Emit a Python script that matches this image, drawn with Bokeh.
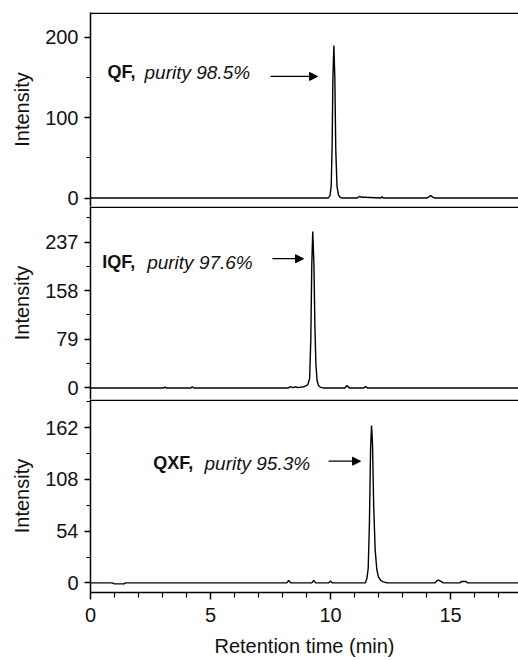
from bokeh.plotting import figure
from bokeh.models import Range1d, FixedTicker, Span, Arrow, NormalHead, Label
from bokeh.layouts import column
from bokeh.embed import file_html
from bokeh.resources import INLINE

# ---------------- data ----------------
x_ticks = [0, 5, 10, 15]
x_minor = [1, 2, 3, 4, 6, 7, 8, 9, 11, 12, 13, 14, 16, 17]

qf_time = [0.0, 9.90, 9.98, 10.03, 10.07, 10.10, 10.14, 10.18, 10.22, 10.27, 10.33, 10.40, 10.50,
           11.10, 11.20, 11.30, 11.40, 12.10, 12.15, 12.20, 14.00, 14.10, 14.17, 14.25, 14.35, 17.90]
qf_int = [0, 0, 3, 15, 70, 150, 190, 150, 60, 15, 4, 1, 0,
          0, 2, 1, 1, 0, 1.5, 0, 0, 1.5, 3, 1.5, 0, 0]
qf_ticks = [0, 100, 200]
qf_minor = [50, 150]

iqf_time = [0.0, 3.05, 3.10, 3.15, 4.18, 4.24, 4.30, 8.25, 8.33, 8.42, 8.50, 8.55, 8.62, 8.90,
            9.05, 9.13, 9.18, 9.22, 9.26, 9.31, 9.35, 9.39, 9.44, 9.50, 9.58, 9.70,
            10.60, 10.69, 10.78, 11.38, 11.46, 11.54, 17.90]
iqf_int = [0, 0, 1.5, 0, 0, 2, 0, 0, 2, 0.5, 1, 2, 0.5, 2,
           5, 15, 80, 200, 254, 200, 100, 40, 12, 4, 1, 0,
           0, 4, 0, 0, 2, 0, 0]
iqf_ticks = [0, 79, 158, 237]
iqf_minor = [39.5, 118.5, 197.5, 276.5]

qxf_time = [0.0, 0.90, 1.00, 1.40, 1.45, 8.18, 8.26, 8.34, 9.22, 9.30, 9.38, 9.93, 10.00, 10.07,
            11.45, 11.52, 11.57, 11.62, 11.67, 11.71, 11.75, 11.80, 11.86, 11.93, 12.00, 12.10,
            12.20, 12.35, 14.35, 14.45, 14.50, 14.60, 14.70, 15.40, 15.45, 15.65, 15.70, 17.90]
qxf_int = [0, 0, -1, -1, 0, 0, 2.5, 0, 0, 2.5, 0, 0, 2, 0,
           0, 5, 15, 60, 140, 164, 145, 80, 35, 14, 6, 2.5,
           1, 0, 0, 2.5, 3, 1.5, 0, 0, 1.5, 1.5, 0, 0]
qxf_ticks = [0, 54, 108, 162]
qxf_minor = [27, 81, 135, 189]

FONT = "Liberation Sans"
x_range = Range1d(0, 17.833)


def panel(t, y, ticks, minor, yr, height, top, bottom, show_x,
          bold_txt, ital_txt, bold_x, ital_x, txt_y, arr_x0, arr_x1, arr_y):
    p = figure(width=518, height=height, x_range=x_range,
               y_range=Range1d(*yr), output_backend="svg", toolbar_location=None,
               min_border_left=90, min_border_right=0,
               min_border_top=top, min_border_bottom=bottom,
               x_axis_location="below" if show_x else None)
    p.outline_line_color = None
    p.grid.visible = False
    p.background_fill_color = "white"
    p.border_fill_color = "white"
    p.line(t, y, line_color="black", line_width=1.4)

    ax = p.yaxis[0]
    ax.ticker = FixedTicker(ticks=ticks, minor_ticks=minor)
    ax.axis_label = "Intensity"
    for a in p.axis:
        a.axis_line_width = 1.5
        a.major_tick_line_width = 1.5
        a.minor_tick_line_width = 1.2
        a.major_tick_out = 6
        a.major_tick_in = 0
        a.minor_tick_out = 4
        a.minor_tick_in = 0
        a.major_label_text_font = FONT
        a.major_label_text_font_size = "20px"
        a.major_label_text_color = "#111111"
        a.axis_label_text_font = FONT
        a.axis_label_text_font_size = "20px"
        a.axis_label_text_font_style = "normal"
        a.axis_label_text_color = "#111111"
    ax.major_label_standoff = 6
    ax.axis_label_standoff = 9
    if show_x:
        xa = p.xaxis[0]
        xa.ticker = FixedTicker(ticks=x_ticks, minor_ticks=x_minor)
        xa.axis_label = "Retention time (min)"
        xa.major_tick_out = 7
        xa.minor_tick_out = 5
        xa.major_label_standoff = 8
        xa.axis_label_standoff = 10

    # top border of the panel, drawn just inside the frame so it is not clipped
    scale = height - top - bottom
    px = (yr[1] - yr[0]) / scale
    p.add_layout(Span(location=yr[1] - 0.8 * px, dimension="width",
                      line_color="black", line_width=1.5))

    p.add_layout(Label(x=bold_x, y=txt_y, text=bold_txt, text_font=FONT, text_font_size="18px",
                       text_font_style="bold", text_color="#111111", text_baseline="alphabetic"))
    p.add_layout(Label(x=ital_x, y=txt_y, text=ital_txt, text_font=FONT, text_font_size="19px",
                       text_font_style="italic", text_color="#111111", text_baseline="alphabetic"))
    p.add_layout(Arrow(x_start=arr_x0, y_start=arr_y, x_end=arr_x1, y_end=arr_y,
                       line_width=1.3, line_color="black",
                       end=NormalHead(size=8, fill_color="black", line_color="black")))
    return p


p1 = panel(qf_time, qf_int, qf_ticks, qf_minor, (-10.5, 231), 206, 12, 0, False,
           "QF,", "purity 98.5%", 0.71, 2.25, 156.4, 7.5, 9.46, 151.4)
p2 = panel(iqf_time, iqf_int, iqf_ticks, iqf_minor, (-18.8, 294.7), 193, 0, 0, False,
           "IQF,", "purity 97.6%", 0.49, 2.36, 204.4, 7.58, 8.875, 209.9)
p3 = panel(qxf_time, qxf_int, qxf_ticks, qxf_minor, (-10.0, 191.2), 261, 0, 68, True,
           "QXF,", "purity 95.3%", 2.61, 4.75, 124.5, 9.92, 11.25, 126.9)

layout = column(p1, p2, p3, spacing=0)
open("out.html", "w").write(file_html(layout, INLINE))
